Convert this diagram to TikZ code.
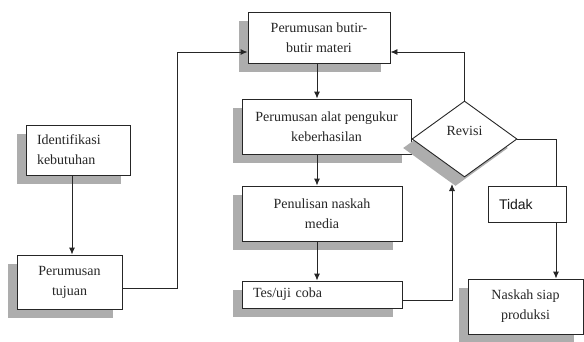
\documentclass[tikz,border=0pt]{standalone}
\usepackage{fontspec}
\setmainfont{Liberation Serif}
\newfontfamily\arialf{Liberation Sans}
\usetikzlibrary{shapes.geometric,shadows,arrows.meta,calc}
\begin{document}
\begin{tikzpicture}[x=1pt,y=-1pt,
  font=\fontsize{14}{20}\selectfont,
  shd/.style={general shadow={fill=black!32, shadow xshift=-9pt, shadow yshift=-9pt}},
  box/.style={draw=black!85, line width=0.9pt, fill=white, text=black!85, inner sep=0pt, align=center, shd},
  lbox/.style={draw=black!85, line width=0.9pt, fill=white, text=black!85, inner xsep=11pt, inner ysep=0pt, align=left},
  ln/.style={draw=black!85, line width=0.9pt},
  arr/.style={ln, -{Latex[length=7pt,width=6pt]}}
]
\useasboundingbox (0,0) rectangle (584,341);

\node[lbox, shd, text width=82pt, minimum height=50pt] (iden) at (78,150) {Identifikasi\\kebutuhan};
\node[box, minimum width=105pt, minimum height=54pt] (tuj) at (69.5,282) {Perumusan\\tujuan};
\node[box, minimum width=142pt, minimum height=51pt] (butir) at (319,37.5) {Perumusan butir-\\butir materi};
\node[box, minimum width=169pt, minimum height=55pt] (alat) at (326.5,126.5) {Perumusan alat pengukur\\keberhasilan};
\node[box, minimum width=160pt, minimum height=55pt] (pen) at (322,213.5) {Penulisan naskah\\media};
\node[lbox, shd, text width=138pt, minimum height=27pt] (tes) at (322,294.5) {Tes/uji coba};
\node[diamond, draw=black!85, line width=0.9pt, fill=white, text=black!85, inner sep=0pt, shd,
      minimum width=105pt, minimum height=76pt] (rev) at (464.5,139) {\raisebox{16pt}{Revisi}};
\node[lbox, text width=56pt, minimum height=36pt, font=\arialf\fontsize{14}{20}\selectfont, text=black!90] (tidak) at (527,204) {Tidak};
\node[box, minimum width=115pt, minimum height=55pt] (nas) at (525.5,306.5) {Naskah siap\\produksi};

\coordinate (mx) at (317,0);
\coordinate (c1) at (177,52);
\coordinate (c2) at (452,184);
\coordinate (tx) at (556,0);

\draw[arr] ([xshift=-6pt]iden.south) -- ([xshift=-6pt]iden.south |- tuj.north);
\draw[arr] ([yshift=-6pt]tuj.east) -| (c1) -- (c1 -| butir.west);
\draw[arr] (mx |- butir.south) -- (mx |- alat.north);
\draw[arr] (mx |- alat.south) -- (mx |- pen.north);
\draw[arr] (mx |- pen.south) -- (mx |- tes.north);
\draw[arr] ([yshift=-5.5pt]tes.east) -| (c2);
\draw[arr] (rev.north) -- (rev.north |- c1) -- (c1 -| butir.east);
\draw[ln] (rev.east) -| (tx |- tidak.north);
\draw[arr] (tx |- tidak.south) -- (tx |- nas.north);
\end{tikzpicture}
\end{document}
